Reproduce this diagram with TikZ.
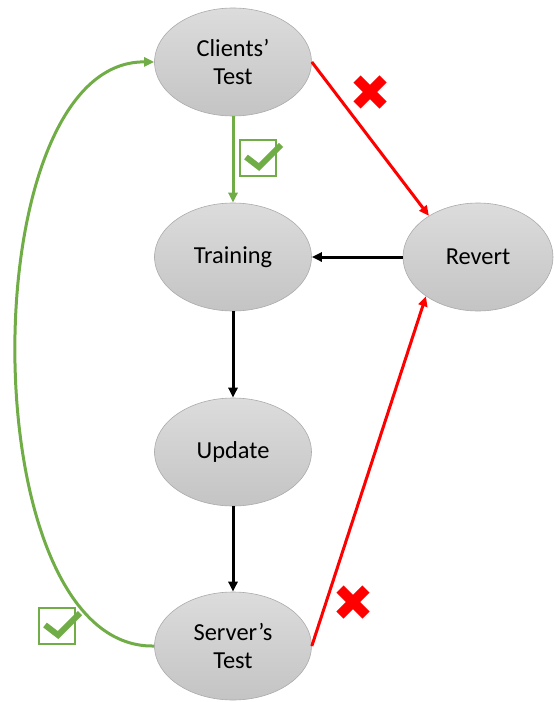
\documentclass[tikz,border=0pt]{standalone}
\usepackage{fontspec}
\setmainfont{Carlito}
\usetikzlibrary{shapes.geometric,arrows.meta}
\definecolor{okgreen}{HTML}{70AD47}
\definecolor{nored}{HTML}{FF0000}
\definecolor{bubbletop}{HTML}{DCDCDC}
\definecolor{bubblebot}{HTML}{C4C4C4}
\definecolor{bubbleedge}{HTML}{ABABAB}
\tikzset{
  bubble/.style={ellipse, minimum width=157bp, minimum height=108bp, inner sep=0pt,
    top color=bubbletop, bottom color=bubblebot, draw=bubbleedge, line width=0.6bp,
    font=\fontsize{24.5}{29}\selectfont, align=center},
  flow/.style={line width=3bp, -{Triangle[length=10bp,width=9bp]}},
  okflow/.style={flow, okgreen},
  noflow/.style={flow, nored},
  plainflow/.style={flow, black},
  tickbox/.pic={
    \draw[okgreen, line width=2.6bp] (-18,-18) rectangle (18,18);
    \draw[okgreen, line width=6bp, line join=miter] (-12,-1) -- (1,9) -- (23,-13);
  },
  crossmark/.pic={
    \draw[nored, line width=10bp] (-13,-13) -- (13,13);
    \draw[nored, line width=10bp] (-13,13) -- (13,-13);
  }
}
\begin{document}
\begin{tikzpicture}[x=1bp, y=-1bp]
  \useasboundingbox (0,0) rectangle (554,702);

  \node[bubble] (cli) at (233,62) {Clients’\\Test};
  \node[bubble] (trn) at (233,257) {Training};
  \node[bubble] (upd) at (233,452) {Update};
  \node[bubble] (srv) at (233,646) {Server’s\\Test};
  \node[bubble, minimum width=150bp] (rev) at (478,257) {Revert};

  % success path
  \draw[okflow] (cli.south) -- (trn.north);
  \draw[okflow] (srv.west) .. controls (-30,650) and (-30,60) .. (cli.west);

  % main sequence
  \draw[plainflow] (rev.west) -- (trn.east);
  \draw[plainflow] (trn.south) -- (upd.north);
  \draw[plainflow] (upd.south) -- (srv.north);

  % failure paths
  \draw[noflow] (cli.east) -- (rev.140);
  \draw[noflow] (srv.east) -- (rev.217);

  % markers
  \pic at (258,158) {tickbox};
  \pic at (57,626) {tickbox};
  \pic at (370,92) {crossmark};
  \pic at (353,602) {crossmark};
\end{tikzpicture}
\end{document}
